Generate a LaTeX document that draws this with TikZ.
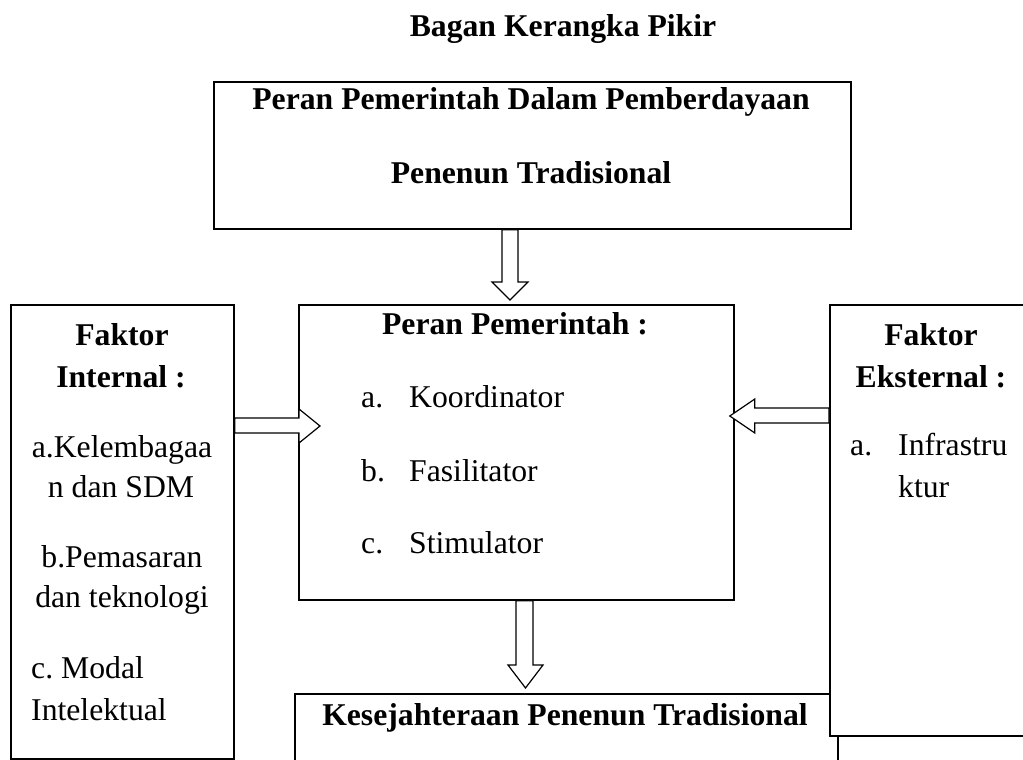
\documentclass[tikz,border=0pt]{standalone}
\usepackage{fontspec}
\setmainfont{Liberation Serif}
\usetikzlibrary{calc}
\frenchspacing
\begin{document}
\begin{tikzpicture}[x=1pt,y=-1pt,
  box/.style={draw, line width=1.8pt, fill=white, anchor=north west, inner sep=0pt},
  blockarrow/.style={draw, line width=1.2pt, fill=white, line join=miter},
  txt/.style={inner sep=0pt, font=\fontsize{31.7}{38}\selectfont},
  btxt/.style={txt, font=\fontsize{31.7}{38}\selectfont\bfseries}]
\useasboundingbox (0,0) rectangle (1023,760);
\clip (0,0) rectangle (1023,760);
% boxes
\node[box, minimum width=637pt, minimum height=147pt] (top) at (213,81) {};
\node[box, minimum width=435pt, minimum height=295pt] (mid) at (298,304) {};
\node[box, minimum width=223pt, minimum height=454pt] (left) at (10,304) {};
\node[box, minimum width=543pt, minimum height=120pt] (bot) at (294,693) {};
\node[box, minimum width=204pt, minimum height=431pt] (right) at (829,304) {};
% block arrows
\draw[blockarrow] let \p1=(top.south), \p2=(mid.north) in
  (502pt,\y1) -- (502pt,\y2+22pt) -- (492pt,\y2+22pt) -- (510pt,\y2+4pt)
  -- (528pt,\y2+22pt) -- (518pt,\y2+22pt) -- (518pt,\y1) -- cycle;
\draw[blockarrow] let \p1=(mid.south), \p2=(bot.north) in
  (516pt,\y1) -- (516pt,\y2+28pt) -- (508pt,\y2+28pt) -- (525.5pt,\y2+5pt)
  -- (543pt,\y2+28pt) -- (533pt,\y2+28pt) -- (533pt,\y1) -- cycle;
\draw[blockarrow] let \p1=(left.east), \p2=(mid.west) in
  (\x1,-418pt) -- (\x2+1pt,-418pt) -- (\x2+1pt,-409pt) -- (\x2+22pt,-426pt)
  -- (\x2+1pt,-443pt) -- (\x2+1pt,-433pt) -- (\x1,-433pt) -- cycle;
\draw[blockarrow] let \p1=(right.west), \p2=(mid.east) in
  (\x1,-408pt) -- (\x2+20pt,-408pt) -- (\x2+20pt,-399pt) -- (\x2-5pt,-416pt)
  -- (\x2+20pt,-433pt) -- (\x2+20pt,-423pt) -- (\x1,-423pt) -- cycle;
% texts
\node[btxt, anchor=base] (title) at (563,37) {Bagan Kerangka Pikir};
\node[btxt, anchor=base] (top1) at (531,110) {Peran Pemerintah Dalam Pemberdayaan};
\node[btxt, anchor=base] (top2) at (531,183) {Penenun Tradisional};
\node[btxt, anchor=base] (midh) at (515,334) {Peran Pemerintah :};
\node[txt, anchor=base west] (ma) at (361,407) {a.};
\node[txt, anchor=base west] (mat) at (409,407) {Koordinator};
\node[txt, anchor=base west] (mb) at (361,481) {b.};
\node[txt, anchor=base west] (mbt) at (409,481) {Fasilitator};
\node[txt, anchor=base west] (mc) at (361,553) {c.};
\node[txt, anchor=base west] (mct) at (409,553) {Stimulator};
\node[btxt, anchor=base] (lh1) at (122,345) {Faktor};
\node[btxt, anchor=base] (lh2) at (121,387) {Internal :};
\node[txt, anchor=base] (la1) at (122,457) {a.Kelembagaa};
\node[txt, anchor=base] (la2) at (121,497) {n dan SDM};
\node[txt, anchor=base] (lb1) at (122,567) {b.Pemasaran};
\node[txt, anchor=base] (lb2) at (122,607) {dan teknologi};
\node[txt, anchor=base west] (lc1) at (31,678) {c. Modal};
\node[txt, anchor=base west] (lc2) at (31,720) {Intelektual};
\node[btxt, anchor=base] (rh1) at (931,345) {Faktor};
\node[btxt, anchor=base] (rh2) at (931,387) {Eksternal :};
\node[txt, anchor=base west] (ra) at (850,455) {a.};
\node[txt, anchor=base west] (ra1) at (898,455) {Infrastru};
\node[txt, anchor=base west] (ra2) at (898,497) {ktur};
\node[btxt, anchor=base] (botl) at (565,725) {Kesejahteraan Penenun Tradisional};
\end{tikzpicture}
\end{document}
